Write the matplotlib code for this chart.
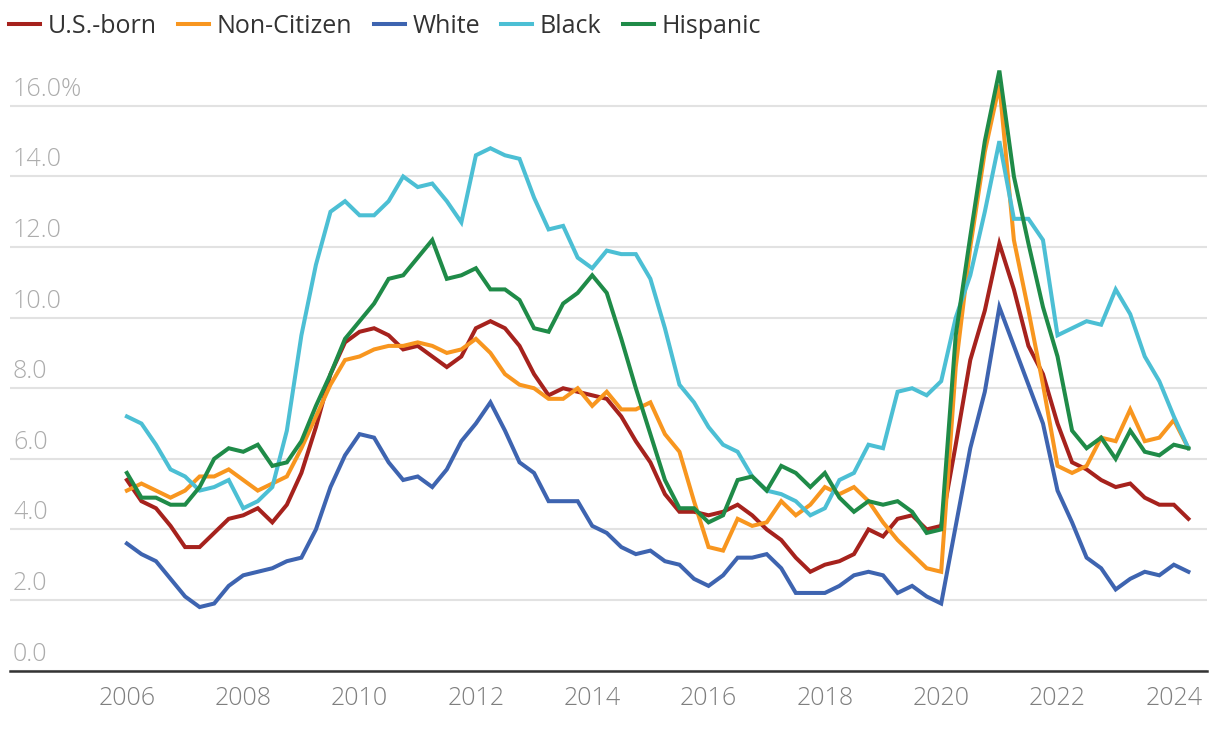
import numpy as np
import pandas as pd
import matplotlib
matplotlib.use("Agg")
import matplotlib.pyplot as plt
from matplotlib import transforms

# quarterly series, 2006Q1 .. 2024Q2
quarters = pd.period_range("2006Q1", "2024Q2", freq="Q")
x = quarters.year + (quarters.quarter - 1) / 4

us_born = [5.4, 4.8, 4.6, 4.1, 3.5, 3.5, 3.9, 4.3, 4.4, 4.6,
           4.2, 4.7, 5.6, 6.9, 8.4, 9.3, 9.6, 9.7, 9.5, 9.1,
           9.2, 8.9, 8.6, 8.9, 9.7, 9.9, 9.7, 9.2, 8.4, 7.8,
           8.0, 7.9, 7.8, 7.7, 7.2, 6.5, 5.9, 5.0, 4.5, 4.5,
           4.4, 4.5, 4.7, 4.4, 4.0, 3.7, 3.2, 2.8, 3.0, 3.1,
           3.3, 4.0, 3.8, 4.3, 4.4, 4.0, 4.1, 6.4, 8.8, 10.2,
           12.1, 10.8, 9.2, 8.4, 7.0, 5.9, 5.7, 5.4, 5.2, 5.3,
           4.9, 4.7, 4.7, 4.3]

non_citizen = [5.1, 5.3, 5.1, 4.9, 5.1, 5.5, 5.5, 5.7, 5.4, 5.1,
               5.3, 5.5, 6.3, 7.2, 8.1, 8.8, 8.9, 9.1, 9.2, 9.2,
               9.3, 9.2, 9.0, 9.1, 9.4, 9.0, 8.4, 8.1, 8.0, 7.7,
               7.7, 8.0, 7.5, 7.9, 7.4, 7.4, 7.6, 6.7, 6.2, 4.8,
               3.5, 3.4, 4.3, 4.1, 4.2, 4.8, 4.4, 4.7, 5.2, 5.0,
               5.2, 4.8, 4.2, 3.7, 3.3, 2.9, 2.8, 8.6, 12.0, 14.7,
               16.6, 12.2, 10.2, 8.1, 5.8, 5.6, 5.8, 6.6, 6.5, 7.4,
               6.5, 6.6, 7.1, 6.3]

white = [3.6, 3.3, 3.1, 2.6, 2.1, 1.8, 1.9, 2.4, 2.7, 2.8,
         2.9, 3.1, 3.2, 4.0, 5.2, 6.1, 6.7, 6.6, 5.9, 5.4,
         5.5, 5.2, 5.7, 6.5, 7.0, 7.6, 6.8, 5.9, 5.6, 4.8,
         4.8, 4.8, 4.1, 3.9, 3.5, 3.3, 3.4, 3.1, 3.0, 2.6,
         2.4, 2.7, 3.2, 3.2, 3.3, 2.9, 2.2, 2.2, 2.2, 2.4,
         2.7, 2.8, 2.7, 2.2, 2.4, 2.1, 1.9, 4.1, 6.3, 7.9,
         10.3, 9.2, 8.1, 7.0, 5.1, 4.2, 3.2, 2.9, 2.3, 2.6,
         2.8, 2.7, 3.0, 2.8]

black = [7.2, 7.0, 6.4, 5.7, 5.5, 5.1, 5.2, 5.4, 4.6, 4.8,
         5.2, 6.8, 9.5, 11.5, 13.0, 13.3, 12.9, 12.9, 13.3, 14.0,
         13.7, 13.8, 13.3, 12.7, 14.6, 14.8, 14.6, 14.5, 13.4, 12.5,
         12.6, 11.7, 11.4, 11.9, 11.8, 11.8, 11.1, 9.7, 8.1, 7.6,
         6.9, 6.4, 6.2, 5.5, 5.1, 5.0, 4.8, 4.4, 4.6, 5.4,
         5.6, 6.4, 6.3, 7.9, 8.0, 7.8, 8.2, 10.0, 11.2, 13.0,
         15.0, 12.8, 12.8, 12.2, 9.5, 9.7, 9.9, 9.8, 10.8, 10.1,
         8.9, 8.2, 7.2, 6.3]

hispanic = [5.6, 4.9, 4.9, 4.7, 4.7, 5.2, 6.0, 6.3, 6.2, 6.4,
            5.8, 5.9, 6.5, 7.5, 8.4, 9.4, 9.9, 10.4, 11.1, 11.2,
            11.7, 12.2, 11.1, 11.2, 11.4, 10.8, 10.8, 10.5, 9.7, 9.6,
            10.4, 10.7, 11.2, 10.7, 9.4, 8.0, 6.7, 5.4, 4.6, 4.6,
            4.2, 4.4, 5.4, 5.5, 5.1, 5.8, 5.6, 5.2, 5.6, 4.9,
            4.5, 4.8, 4.7, 4.8, 4.5, 3.9, 4.0, 9.5, 12.3, 15.0,
            17.0, 14.0, 12.1, 10.3, 8.9, 6.8, 6.3, 6.6, 6.0, 6.8,
            6.2, 6.1, 6.4, 6.3]

names = ["U.S.-born", "Non-Citizen", "White", "Black", "Hispanic"]
colors = ["#a6221d", "#f8961f", "#3e64b0", "#4cbfd4", "#1f8b48"]

yticks = [0, 2, 4, 6, 8, 10, 12, 14, 16]
ytick_labels = ["0.0", "2.0", "4.0", "6.0", "8.0", "10.0", "12.0", "14.0", "16.0%"]
xticks = [2006, 2008, 2010, 2012, 2014, 2016, 2018, 2020, 2022, 2024]

plt.rcParams["font.family"] = ["Open Sans", "DejaVu Sans"]
plt.rcParams["font.weight"] = 300
FS = 18

fig = plt.figure(figsize=(12.2, 7.3), dpi=100)
ax = fig.add_axes([10 / 1220, 1 - 670.6 / 730, 1197 / 1220, (670.6 - 60) / 730])

handles = []
for name, vals, col in zip(names, [us_born, non_citizen, white, black, hispanic], colors):
    h, = ax.plot(x, vals, color=col, lw=2.9, solid_joinstyle="miter", label=name)
    handles.append(h)

ax.set_xlim(2003.99, 2024.57)
ax.set_ylim(0, 17.3)

# grid + spines
ax.set_yticks(yticks)
ax.yaxis.grid(True, color="#e2e2e2", lw=1.5)
ax.set_axisbelow(True)
ax.tick_params(axis="y", length=0, labelleft=False)
for s in ["top", "right", "left"]:
    ax.spines[s].set_visible(False)
ax.spines["bottom"].set_color("#333333")
ax.spines["bottom"].set_linewidth(1.8)

ax.set_xticks(xticks)
ax.set_xticklabels([str(t) for t in xticks])
ax.tick_params(axis="x", length=0, pad=11, labelsize=FS, labelcolor="#7f7f7f")

# y labels sit above the gridlines, inside the plot
trans = transforms.blended_transform_factory(ax.transAxes, ax.transData)
trans = transforms.offset_copy(trans, fig=fig, x=3, y=10, units="dots")
for v, lab in zip(yticks, ytick_labels):
    ax.text(0, v, lab, transform=trans, ha="left", va="baseline",
            fontsize=FS, color="#acacac")

leg = fig.legend(handles=handles, labels=names, loc="upper left",
                 bbox_to_anchor=(9 / 1220, 1 - 14 / 730), ncol=5, frameon=False,
                 prop={"size": FS, "weight": 400}, handlelength=1.25,
                 handletextpad=0.3, columnspacing=0.85, borderpad=0,
                 borderaxespad=0, labelcolor="#333333")

fig.savefig("out.png", dpi=100)
